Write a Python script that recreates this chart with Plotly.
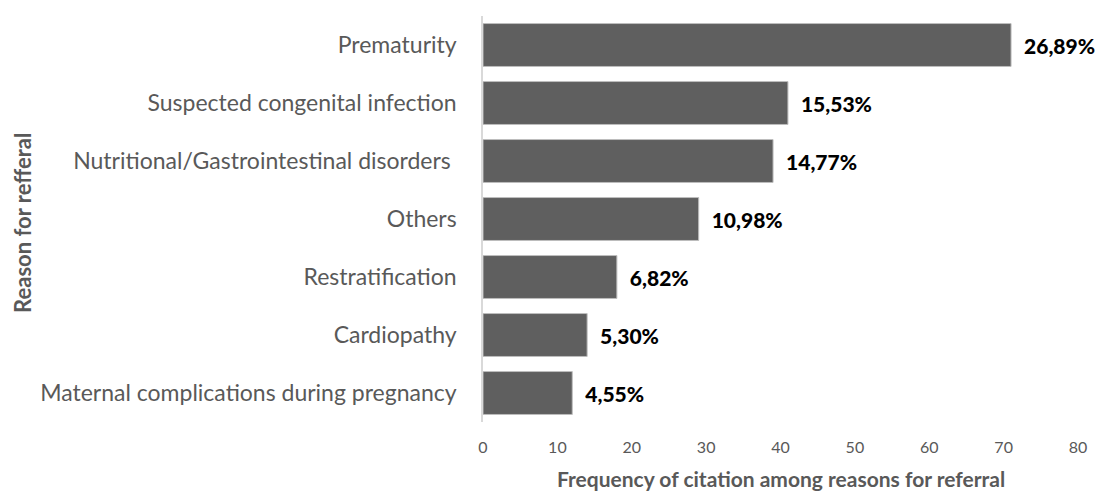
import plotly.graph_objects as go

categories = ["Prematurity", "Suspected congenital infection", "Nutritional/Gastrointestinal disorders ",
              "Others", "Restratification", "Cardiopathy", "Maternal complications during pregnancy"]
counts = [71, 41, 39, 29, 18, 14, 12]
pct_labels = ["26,89%", "15,53%", "14,77%", "10,98%", "6,82%", "5,30%", "4,55%"]
x_ticks = [0, 10, 20, 30, 40, 50, 60, 70, 80]

FONT = "Lato"
GRAY = "#595959"

fig = go.Figure()
fig.add_trace(go.Bar(
    y=categories, x=counts, orientation="h",
    marker=dict(color="#5f5f5f", line=dict(color="#bdbdbd", width=1)),
    text=pct_labels, textposition="outside", cliponaxis=False,
    textfont=dict(family=FONT, size=21, color="#000000", weight=900),
    texttemplate="  %{text}",
))

fig.update_layout(
    width=1099, height=502,
    margin=dict(l=483, r=16, t=16, b=80),
    paper_bgcolor="white", plot_bgcolor="white",
    bargap=0.26, showlegend=False,
    font=dict(family=FONT, color=GRAY),
    xaxis=dict(range=[0, 80], tickvals=x_ticks, showgrid=False, zeroline=False,
               showline=False, ticks="outside", ticklen=11, tickcolor="rgba(0,0,0,0)",
               tickfont=dict(family=FONT, size=16, color=GRAY)),
    yaxis=dict(categoryorder="array", categoryarray=categories[::-1],
               showgrid=False, zeroline=False, showline=True, linecolor="#d9d9d9", linewidth=1.5,
               ticks="outside", ticklen=20, tickcolor="rgba(0,0,0,0)",
               tickfont=dict(family=FONT, size=23, color=GRAY)),
    annotations=[
        dict(text="<b>Frequency of citation among reasons for referral</b>", xref="paper", yref="paper",
             x=0.5, y=-0.138, xanchor="center", yanchor="middle", showarrow=False,
             font=dict(family=FONT, size=21, color=GRAY)),
        dict(text="<b>Reason for refferal</b>", xref="paper", yref="paper",
             x=-0.775, y=0.49, xanchor="center", yanchor="middle", showarrow=False, textangle=-90,
             font=dict(family=FONT, size=22, color=GRAY)),
    ],
)

fig.write_html("out.html", config={"displayModeBar": False},
               post_script="document.body.style.margin='0';"
                           "document.body.style.fontVariantLigatures='none';")
